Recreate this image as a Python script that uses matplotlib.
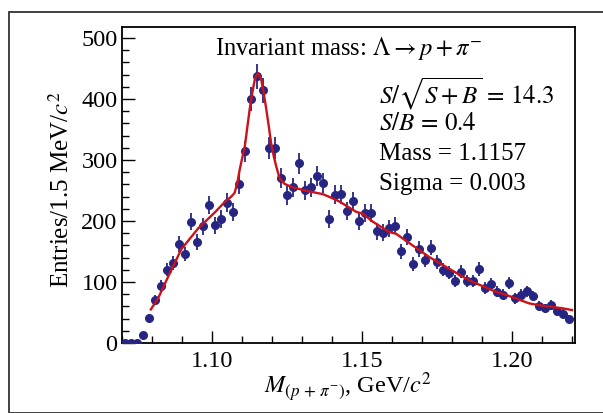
import numpy as np
import matplotlib
matplotlib.use("Agg")
import matplotlib.pyplot as plt
from matplotlib.patches import Rectangle
from matplotlib.ticker import MultipleLocator, FormatStrFormatter

plt.rcParams["font.family"] = ["Liberation Serif", "DejaVu Serif"]
plt.rcParams["mathtext.fontset"] = "stix"

# bin centres (2 MeV steps) and entries
bin_lo = 1.071
bin_step = 0.002
counts = [
    0, 0, 0, 13, 41, 71, 94, 120, 131, 162,
    146, 199, 166, 191, 226, 193, 203, 230, 215, 261,
    314, 400, 437, 414, 320, 320, 270, 242, 255, 295,
    250, 255, 274, 262, 203, 243, 244, 217, 233, 200,
    213, 213, 183, 181, 188, 192, 150, 174, 130, 154,
    136, 156, 132, 120, 115, 102, 117, 102, 102, 121,
    90, 96, 84, 79, 99, 73, 79, 85, 77, 61,
    57, 62, 52, 48, 39,
]

# fit curve
fit_x = [
    1.0797, 1.0821, 1.0855, 1.0899, 1.0955, 1.1010, 1.1043, 1.1065, 1.1076,
    1.1085, 1.1093, 1.1100, 1.1110, 1.1126, 1.1135, 1.1143, 1.1148, 1.1154,
    1.1160, 1.1165, 1.1172, 1.1182, 1.1190, 1.1198, 1.1207, 1.1215, 1.1226,
    1.1242, 1.1270, 1.1320, 1.1370, 1.1394, 1.1425, 1.1481, 1.1503, 1.1536,
    1.1591, 1.1614, 1.1724, 1.1835, 1.1870, 1.1946, 1.1980, 1.2057, 1.2090,
    1.2167, 1.2200,
]
fit_y = [
    55, 73, 109, 154, 188, 214, 231, 240, 246,
    262, 284, 300, 322, 382, 410, 431, 438, 442,
    438, 431, 413, 382, 355, 327, 305, 289, 270,
    261, 255, 249, 244, 239, 232, 215, 212, 199,
    182, 179, 141, 109, 100, 84, 79, 65, 62,
    57, 54,
]

title = r"Invariant mass: $\Lambda \rightarrow p + \pi^{-}$"
stats_lines = [
    r"$S/\sqrt{S+B}\, =\, 14.3$",
    r"$S/B\, =\, 0.4$",
    r"Mass = 1.1157",
    r"Sigma = 0.003",
]

counts = np.array(counts, dtype=float)
centers = bin_lo + bin_step * np.arange(len(counts))
errs = np.sqrt(counts)

W, H = 603, 413
fig = plt.figure(figsize=(W / 100, H / 100), dpi=100)
fig.patches.append(Rectangle((9 / W, 0), 1.0, 1 - 12 / H, transform=fig.transFigure,
                             fill=False, edgecolor="#333333", linewidth=1.3))
ax = fig.add_axes([121.7 / W, 1 - 343 / H, (575 - 121.7) / W, (343 - 27) / H])

blue = "#262682"
nz = counts > 0
ax.errorbar(centers[nz], counts[nz], yerr=errs[nz], fmt="o", color=blue,
            markersize=5.5, elinewidth=1.3, capsize=0, zorder=3)
ax.plot(centers[~nz], counts[~nz], "o", color=blue, markersize=5.5, zorder=3)
ax.plot(fit_x, fit_y, color="#cc1219", linewidth=1.7, zorder=4)

ax.set_xlim(1.07, 1.221)
ax.set_ylim(0, 518)
ax.xaxis.set_major_locator(MultipleLocator(0.05))
ax.xaxis.set_minor_locator(MultipleLocator(0.01))
ax.yaxis.set_major_locator(MultipleLocator(100))
ax.yaxis.set_minor_locator(MultipleLocator(20))
ax.xaxis.set_major_formatter(FormatStrFormatter("%.2f"))
ax.tick_params(which="both", direction="in", top=False, right=False, labelsize=17.5,
               width=1.0, colors="black")
ax.tick_params(which="major", length=9)
ax.tick_params(which="minor", length=5)
ax.tick_params(axis="x", pad=6)
ax.tick_params(axis="y", pad=3)
for s in ax.spines.values():
    s.set_linewidth(1.3)

fig.text(348 / W, 1 - 387 / H, r"$M_{(p\,+\,\pi^{-})}$, GeV/$c^{2}$",
         ha="center", va="center", fontsize=17.5)
fig.text(61 / W, 1 - 190 / H, r"Entries/1.5 MeV/$c^{2}$", rotation=90,
         ha="center", va="center", fontsize=18)

fig.text(349 / W, 1 - 48 / H, title, ha="center", va="center", fontsize=17.7)
for i, line in enumerate(stats_lines):
    fig.text(379 / W, 1 - (94 + 30 * i) / H, line, ha="left", va="center", fontsize=18)

fig.savefig("out.png", dpi=100)
